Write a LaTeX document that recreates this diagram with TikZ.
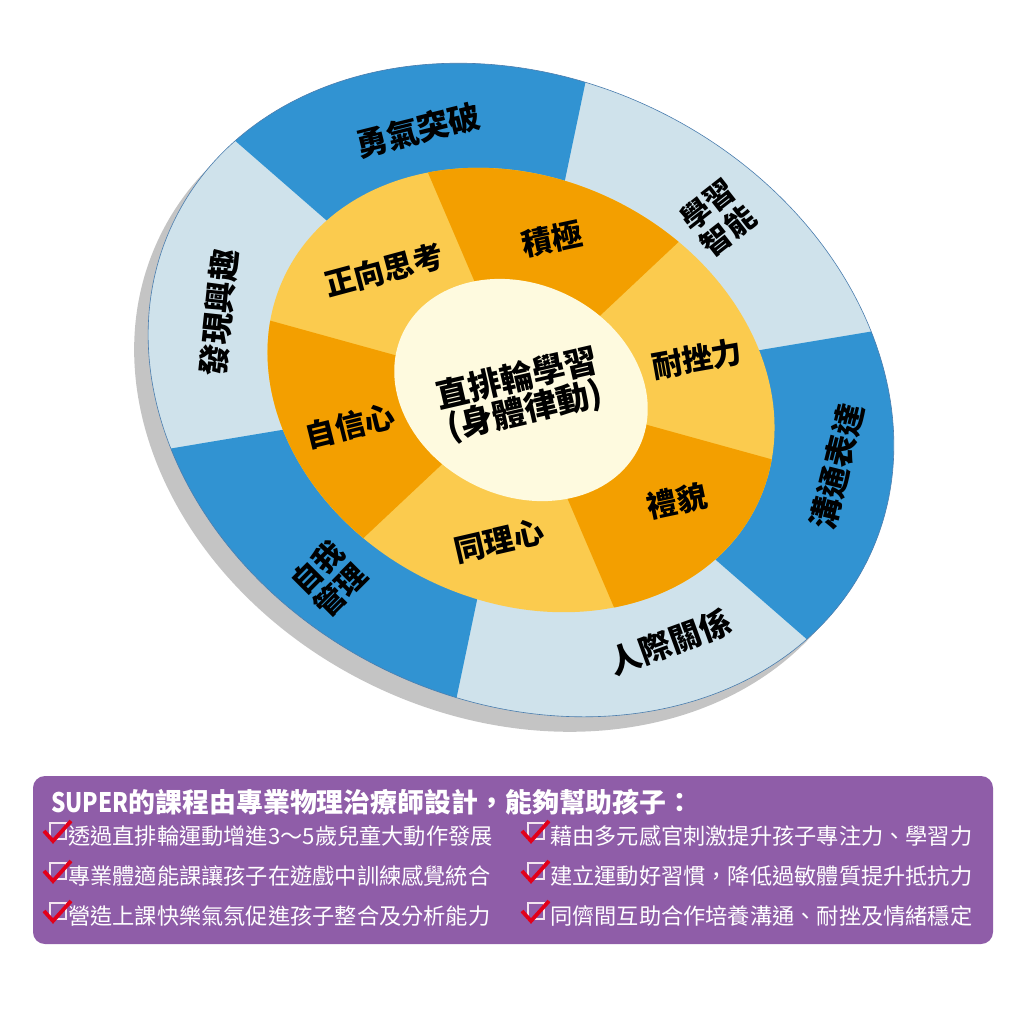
\documentclass[tikz,border=0pt]{standalone}
\usepackage{graphicx}
\usepackage{fontspec}
\newfontfamily\cjk{Noto Sans CJK TC}
\definecolor{bluseg}{HTML}{3193D2}
\definecolor{lightseg}{HTML}{CFE2EB}
\definecolor{orangeD}{HTML}{F39F00}
\definecolor{orangeL}{HTML}{FBCB4E}
\definecolor{creamc}{HTML}{FEFADF}
\definecolor{shadowc}{HTML}{C4C4C4}
\definecolor{edgec}{HTML}{4A7DAE}
\definecolor{purplec}{HTML}{8F5DA8}
\definecolor{redc}{HTML}{E2001A}
\definecolor{boxc}{HTML}{F3E6F0}
\begin{document}
\begin{tikzpicture}[x=1bp,y=1bp,
  outlab/.style={font=\cjk\bfseries\fontsize{32}{34}\selectfont, text=black, inner sep=0pt, align=center},
  outlab2/.style={font=\cjk\bfseries\fontsize{30}{33}\selectfont, text=black, inner sep=0pt, align=center},
  inlab/.style={font=\cjk\bfseries\fontsize{30.5}{32}\selectfont, text=black, inner sep=0pt, align=center},
  cenlab/.style={font=\cjk\bfseries\fontsize{33}{33}\selectfont, text=black, inner sep=0pt, align=center},
  titlab/.style={font=\cjk\bfseries\fontsize{27}{27}\selectfont, text=white, inner sep=0pt, anchor=base west},
  itemlab/.style={font=\cjk\fontsize{22.3}{24}\selectfont, text=white, inner sep=0pt, anchor=base west},
  chk/.pic={
    \draw[boxc, line width=1.3bp] (0,0) rectangle (16,-16);
    \draw[redc, line width=3.8bp, line join=miter] (-6,-8) -- (3,-18) -- (21,2);
  }]
\useasboundingbox (0,0) rectangle (1024,-1009);
% shadow
\begin{scope}[shift={(507,-405)}, rotate=-26, xscale=386, yscale=311]
  \fill[shadowc] (0,0) circle[radius=1];
\end{scope}
% wheel
\begin{scope}[shift={(521,-390)}, rotate=-26, xscale=386, yscale=311]
  \fill[lightseg] (0,0) circle[radius=1];
  \foreach \a in {101.5,-18.5,221.5}
    \fill[bluseg] (0,0) -- (\a:1) arc[start angle=\a, delta angle=60, radius=1] -- cycle;
  \draw[edgec, line width=0.6bp] (0,0) circle[radius=1];
  \fill[orangeL] (0,0) circle[radius=0.68];
  \foreach \a in {73,-47,193}
    \fill[orangeD] (0,0) -- (\a:0.68) arc[start angle=\a, delta angle=60, radius=0.68] -- cycle;
  \fill[creamc] (0,0) circle[radius=0.34];
\end{scope}
% outer labels
\node[outlab, rotate=14] (yong) at (418,-130) {勇氣突破};
\node[outlab2, rotate=38] (xuexi) at (718,-218) {學習\\智能};
\node[outlab, rotate=76] (goutong) at (837,-467) {溝通表達};
\node[outlab, rotate=20] (renji) at (670,-642) {人際關係};
\node[outlab2, rotate=45] (ziwo) at (329,-579) {自我\\管理};
\node[outlab, rotate=84] (faxian) at (219,-313) {發現興趣};
% inner labels
\node[inlab, rotate=15] (zhengxiang) at (384,-270) {正向思考};
\node[inlab, rotate=12] (jiji) at (552,-239) {積極};
\node[inlab, rotate=10] (naicuo) at (697,-359) {耐挫力};
\node[inlab, rotate=12] (limao) at (677,-501) {禮貌};
\node[inlab, rotate=13] (tongli) at (499,-541) {同理心};
\node[inlab, rotate=14] (zixin) at (350,-426) {自信心};
\node[cenlab, rotate=13] (center) at (521,-395) {直排輪學習\\(身體律動)};
% bottom box
\fill[purplec, rounded corners=12] (33,-776) rectangle (993,-944);
\node[titlab] (title) at (51,-812) {\scalebox{0.84}[1]{SUPER}的課程由專業物理治療師設計，能夠幫助孩子：};
\pic at (50,-823) {chk};
\pic at (50,-863) {chk};
\pic at (50,-903) {chk};
\pic at (528,-823) {chk};
\pic at (528,-863) {chk};
\pic at (528,-903) {chk};
\node[itemlab] (l1) at (68,-844) {透過直排輪運動增進3～5歲兒童大動作發展};
\node[itemlab] (l2) at (68,-884) {專業體適能課讓孩子在遊戲中訓練感覺統合};
\node[itemlab] (l3) at (68,-924) {營造上課快樂氣氛促進孩子整合及分析能力};
\node[itemlab] (r1) at (550,-844) {藉由多元感官刺激提升孩子專注力、學習力};
\node[itemlab] (r2) at (550,-884) {建立運動好習慣，降低過敏體質提升抵抗力};
\node[itemlab] (r3) at (550,-924) {同儕間互助合作培養溝通、耐挫及情緒穩定};
\end{tikzpicture}
\end{document}
